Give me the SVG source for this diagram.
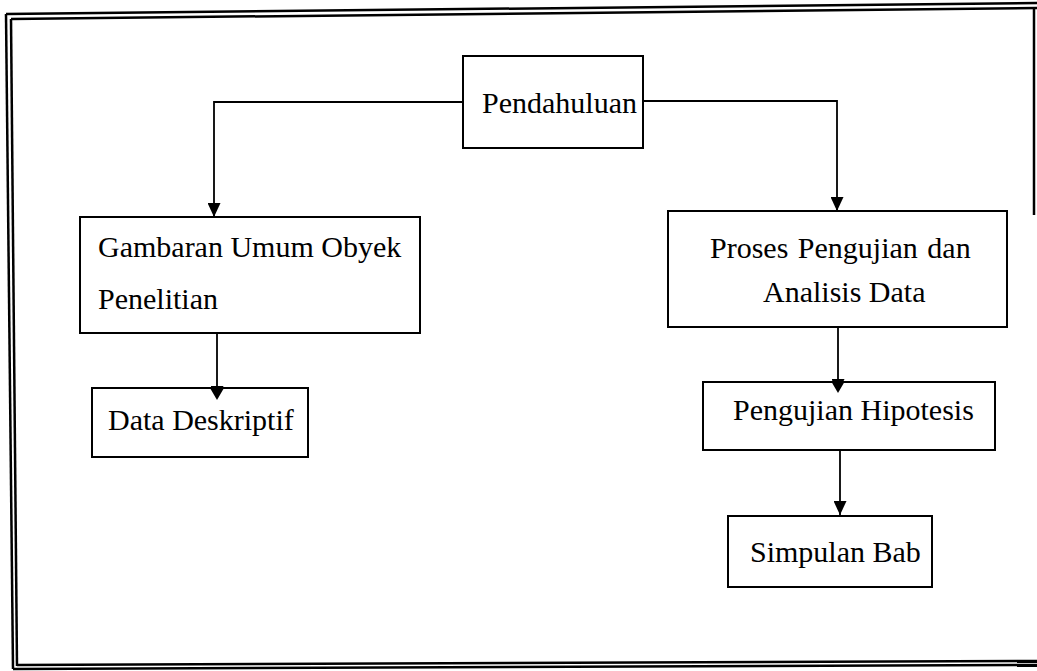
<svg xmlns="http://www.w3.org/2000/svg" width="1037" height="671" viewBox="0 0 1037 671">
  <style>
    .frame { fill: none; stroke: #000; stroke-width: 2.5; }
    .box { fill: #fff; stroke: #000; stroke-width: 2; }
    .label { font-family: "Liberation Serif", "Times New Roman", serif; font-size: 30px; fill: #000; }
    .link { fill: none; stroke: #000; stroke-width: 1.8; }
  </style>
  <defs>
    <marker id="arrow" viewBox="0 0 14 13" refX="14" refY="6.5" markerWidth="14" markerHeight="13" markerUnits="userSpaceOnUse" orient="auto">
      <path d="M0,0 L14,6.5 L0,13 Z" fill="#000"/>
    </marker>
  </defs>
  <rect width="1037" height="671" fill="#fff"/>

  <!-- page frame (double rule, slightly skewed) -->
  <g id="frame">
    <line class="frame" x1="6" y1="14" x2="1037" y2="3"/>
    <line class="frame" x1="11" y1="19" x2="1037" y2="8"/>
    <line class="frame" x1="6" y1="14" x2="13" y2="669"/>
    <line class="frame" x1="11" y1="19" x2="17" y2="666"/>
    <line class="frame" x1="13" y1="669" x2="1037" y2="665"/>
    <line class="frame" x1="17" y1="665" x2="1037" y2="661"/>
    <line class="frame" x1="1034" y1="8" x2="1034" y2="215"/>
  </g>

  <!-- connectors -->
  <g id="connectors">
    <polyline class="link" points="463,102 214,102 214,217" marker-end="url(#arrow)"/>
    <polyline class="link" points="643,101 837,101 837,211" marker-end="url(#arrow)"/>
    <line class="link" x1="217" y1="333" x2="217" y2="400" marker-end="url(#arrow)"/>
    <line class="link" x1="838" y1="327" x2="838" y2="393" marker-end="url(#arrow)"/>
    <line class="link" x1="840" y1="450" x2="840" y2="515" marker-end="url(#arrow)"/>
  </g>

  <g id="node-pendahuluan">
    <rect class="box" x="463" y="56" width="180" height="92"/>
    <text class="label" x="482" y="113">Pendahuluan</text>
  </g>

  <g id="node-gambaran">
    <rect class="box" x="80" y="217" width="340" height="116"/>
    <text class="label" x="98" y="257">Gambaran Umum Obyek</text>
    <text class="label" x="98" y="309">Penelitian</text>
  </g>

  <g id="node-data-deskriptif">
    <rect class="box" x="92" y="388" width="216" height="69"/>
    <text class="label" x="108" y="430">Data Deskriptif</text>
  </g>

  <g id="node-proses">
    <rect class="box" x="668" y="211" width="339" height="116"/>
    <text class="label" x="710" y="258" word-spacing="2">Proses Pengujian dan</text>
    <text class="label" x="763" y="302">Analisis Data</text>
  </g>

  <g id="node-hipotesis">
    <rect class="box" x="703" y="382" width="292" height="68"/>
    <text class="label" x="733" y="420">Pengujian Hipotesis</text>
  </g>

  <g id="node-simpulan">
    <rect class="box" x="728" y="516" width="204" height="71"/>
    <text class="label" x="750" y="562">Simpulan Bab</text>
  </g>

  <!-- arrowheads sit over box edges -->
  <g id="arrow-tips">
    <path d="M210,388 L224,388 L217,400 Z" fill="#000"/>
    <path d="M831,381 L845,381 L838,393 Z" fill="#000"/>
  </g>
</svg>
